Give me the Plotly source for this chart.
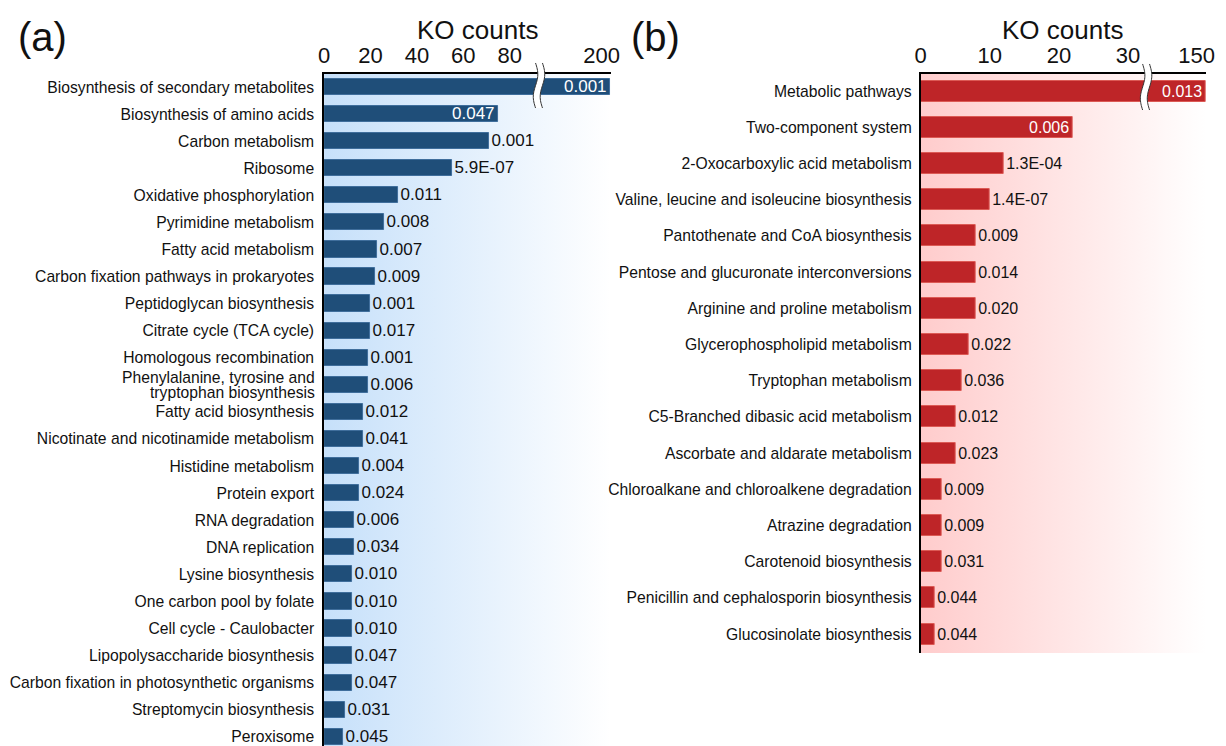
import math
import base64
import plotly.graph_objects as go

W, H = 1226, 746
FONT = "Liberation Sans"
LABEL_SIZE = 15.7

# ---- panel (a) data ----
pathways_a = [
    "Biosynthesis of secondary metabolites",
    "Biosynthesis of amino acids",
    "Carbon metabolism",
    "Ribosome",
    "Oxidative phosphorylation",
    "Pyrimidine metabolism",
    "Fatty acid metabolism",
    "Carbon fixation pathways in prokaryotes",
    "Peptidoglycan biosynthesis",
    "Citrate cycle (TCA cycle)",
    "Homologous recombination",
    "Phenylalanine, tyrosine and<br>tryptophan biosynthesis",
    "Fatty acid biosynthesis",
    "Nicotinate and nicotinamide metabolism",
    "Histidine metabolism",
    "Protein export",
    "RNA degradation",
    "DNA replication",
    "Lysine biosynthesis",
    "One carbon pool by folate",
    "Cell cycle - Caulobacter",
    "Lipopolysaccharide biosynthesis",
    "Carbon fixation in photosynthetic organisms",
    "Streptomycin biosynthesis",
    "Peroxisome",
]
counts_a = [203, 75, 71, 55, 32, 26, 23, 22, 20, 20, 19, 19, 17, 17, 15, 15,
            13, 13, 12, 12, 12, 12, 12, 9, 8]
pvals_a = ["0.001", "0.047", "0.001", "5.9E-07", "0.011", "0.008", "0.007",
           "0.009", "0.001", "0.017", "0.001", "0.006", "0.012", "0.041",
           "0.004", "0.024", "0.006", "0.034", "0.010", "0.010", "0.010",
           "0.047", "0.047", "0.031", "0.045"]
ticks_a = [0, 20, 40, 60, 80, 200]

# ---- panel (b) data ----
pathways_b = [
    "Metabolic pathways",
    "Two-component system",
    "2-Oxocarboxylic acid metabolism",
    "Valine, leucine and isoleucine biosynthesis",
    "Pantothenate and CoA biosynthesis",
    "Pentose and glucuronate interconversions",
    "Arginine and proline metabolism",
    "Glycerophospholipid metabolism",
    "Tryptophan metabolism",
    "C5-Branched dibasic acid metabolism",
    "Ascorbate and aldarate metabolism",
    "Chloroalkane and chloroalkene degradation",
    "Atrazine degradation",
    "Carotenoid biosynthesis",
    "Penicillin and cephalosporin biosynthesis",
    "Glucosinolate biosynthesis",
]
counts_b = [152, 22, 12, 10, 8, 8, 8, 7, 6, 5, 5, 3, 3, 3, 2, 2]
pvals_b = ["0.013", "0.006", "1.3E-04", "1.4E-07", "0.009", "0.014", "0.020",
           "0.022", "0.036", "0.012", "0.023", "0.009", "0.009", "0.031",
           "0.044", "0.044"]
ticks_b = [0, 10, 20, 30, 150]

# ---- broken x axes: linear lower segment, compressed upper segment ----
BREAK_A = dict(low_max=92.6, hi_start=180, hi_pos=95.0, hi_scale=1.23)
BREAK_B = dict(low_max=32.6, hi_start=140, hi_pos=33.5, hi_scale=0.64)


def axis_pos(v, brk):
    if v <= brk["low_max"]:
        return v
    return brk["hi_pos"] + (v - brk["hi_start"]) * brk["hi_scale"]


# panel geometry in pixels
A_L, A_R = 322, 612
B_L, B_R = 926, 1215
TOP = 74
A_BOT, B_BOT = 746, 653
PX_A, PX_B = 2.35, 7.0            # pixels per count on the lower segment
RANGE_A = (A_R - A_L) / PX_A
RANGE_B = (B_R - B_L) / PX_B


def px_x(p):
    return p / W


def px_y(p):
    return 1 - p / H


BLUE, BLUE_EDGE = "#1f4e79", "#3f6e9c"
RED, RED_EDGE = "#be2528", "#dc5a55"

fig = go.Figure()


def add_panel(names, counts, pvals, brk, color, edge, xa, ya, n_inside,
              width, tsize):
    xs = [axis_pos(c, brk) for c in counts]
    pos = ["inside" if i < n_inside else "outside" for i in range(len(counts))]
    fig.add_trace(go.Bar(
        x=xs, y=list(range(len(names))), orientation="h",
        text=pvals, textposition=pos, insidetextanchor="end",
        constraintext="none", textangle=0,
        insidetextfont=dict(color="white", size=tsize, family=FONT),
        outsidetextfont=dict(color="#111", size=tsize, family=FONT),
        marker=dict(color=color, line=dict(color=edge, width=1)),
        width=width, cliponaxis=False, xaxis=xa, yaxis=ya,
        showlegend=False, hoverinfo="skip",
    ))


add_panel(pathways_a, counts_a, pvals_a, BREAK_A, BLUE, BLUE_EDGE,
          "x", "y", 2, 0.6, 17)
add_panel(pathways_b, counts_b, pvals_b, BREAK_B, RED, RED_EDGE,
          "x2", "y2", 2, 0.58, 16)

# multi-line category drawn separately with tight line spacing
special = pathways_a.index("Phenylalanine, tyrosine and<br>tryptophan biosynthesis")
ticktext_a = ["" if i == special else n for i, n in enumerate(pathways_a)]

axis_common = dict(showgrid=False, zeroline=False, showline=True,
                   linecolor="black", linewidth=1.6, ticks="",
                   fixedrange=True)

fig.update_layout(
    width=W, height=H,
    margin=dict(l=0, r=0, t=0, b=0),
    paper_bgcolor="white", plot_bgcolor="rgba(0,0,0,0)",
    font=dict(family=FONT, color="#111"),
    bargap=0,
    xaxis=dict(domain=[px_x(A_L), px_x(A_R)], range=[0, RANGE_A], side="top",
               anchor="y",
               tickvals=[axis_pos(t, BREAK_A) for t in ticks_a],
               ticktext=[str(t) for t in ticks_a],
               tickfont=dict(size=22, color="#111", family=FONT),
               ticklabelstandoff=0,
               **axis_common),
    yaxis=dict(domain=[px_y(A_BOT), px_y(TOP)], range=[24.34, -0.48],
               anchor="x",
               tickvals=list(range(len(pathways_a))), ticktext=ticktext_a,
               tickfont=dict(size=LABEL_SIZE, color="#111", family=FONT),
               ticklabelstandoff=5,
               **axis_common),
    xaxis2=dict(domain=[px_x(B_L), px_x(B_R)], range=[0, RANGE_B], side="top",
                anchor="y2",
                tickvals=[axis_pos(t, BREAK_B) for t in ticks_b],
                ticktext=[str(t) for t in ticks_b],
                tickfont=dict(size=22, color="#111", family=FONT),
                ticklabelstandoff=0,
                **axis_common),
    yaxis2=dict(domain=[px_y(B_BOT), px_y(TOP)], range=[15.52, -0.47],
                anchor="x2",
                tickvals=list(range(len(pathways_b))), ticktext=pathways_b,
                tickfont=dict(size=LABEL_SIZE, color="#111", family=FONT),
                ticklabelstandoff=4,
                **axis_common),
)


# ---- gradient panel backgrounds ----
def gradient_uri(c0):
    svg = ('<svg xmlns="http://www.w3.org/2000/svg" width="200" height="200" '
           'viewBox="0 0 200 200" preserveAspectRatio="none"><defs>'
           '<linearGradient id="g" x1="0" x2="1" y1="0" y2="0">'
           f'<stop offset="0" stop-color="{c0}"/>'
           '<stop offset="1" stop-color="#ffffff"/></linearGradient></defs>'
           '<rect width="200" height="200" fill="url(#g)"/></svg>')
    return "data:image/svg+xml;base64," + base64.b64encode(svg.encode()).decode()


fig.update_layout(images=[
    dict(source=gradient_uri("#c6e0fa"), xref="paper", yref="paper",
         x=px_x(A_L), y=px_y(TOP), sizex=px_x(A_R - A_L), sizey=(A_BOT - TOP) / H,
         xanchor="left", yanchor="top", sizing="stretch", layer="below"),
    dict(source=gradient_uri("#ffcccc"), xref="paper", yref="paper",
         x=px_x(B_L), y=px_y(TOP), sizex=px_x(B_R - B_L), sizey=(B_BOT - TOP) / H,
         xanchor="left", yanchor="top", sizing="stretch", layer="below"),
])


# ---- axis-break marks (two wavy lines with a white gap) ----
def break_shapes(left_px, px_per_unit, brk, y0, y1, half_gap=3.5, amp=2.3):
    xc = left_px + brk["low_max"] * px_per_unit
    n = 30
    ts = [i / n for i in range(n + 1)]

    def curve(off):
        return [(px_x(xc + off + amp * math.sin(2 * math.pi * t)),
                 px_y(y0 + (y1 - y0) * t)) for t in ts]

    lft, rgt = curve(-half_gap), curve(half_gap)
    poly = lft + rgt[::-1]
    fill_path = "M " + " L ".join(f"{x:.5f},{y:.5f}" for x, y in poly) + " Z"
    shapes = [dict(type="path", xref="paper", yref="paper", path=fill_path,
                   fillcolor="white", line=dict(width=0), layer="above")]
    for c in (lft, rgt):
        p = "M " + " L ".join(f"{x:.5f},{y:.5f}" for x, y in c)
        shapes.append(dict(type="path", xref="paper", yref="paper", path=p,
                           line=dict(color="#333", width=1), layer="above"))
    return shapes


shapes = break_shapes(A_L, PX_A, BREAK_A, 63, 108)
shapes += break_shapes(B_L, PX_B, BREAK_B, 64, 110)
fig.update_layout(shapes=shapes)

# ---- titles, panel letters and the two-line category ----
row_a = 0.265
anns = [
    dict(text="KO counts", x=px_x(477), y=px_y(30), xref="paper", yref="paper",
         xanchor="center", yanchor="middle",
         showarrow=False, font=dict(size=26, color="#111", family=FONT)),
    dict(text="KO counts", x=px_x(1070), y=px_y(30), xref="paper", yref="paper",
         xanchor="center", yanchor="middle",
         showarrow=False, font=dict(size=26, color="#111", family=FONT)),
    dict(text="(a)", x=px_x(10), y=px_y(37), xref="paper", yref="paper",
         xanchor="left", yanchor="middle",
         showarrow=False, font=dict(size=40, color="#111", family=FONT)),
    dict(text="(b)", x=px_x(631), y=px_y(37), xref="paper", yref="paper",
         xanchor="left", yanchor="middle",
         showarrow=False, font=dict(size=40, color="#111", family=FONT)),
]
for k, line in enumerate(pathways_a[special].split("<br>")):
    anns.append(dict(text=line, x=px_x(A_L - 7), xref="paper", xanchor="right",
                     y=special + (-row_a if k == 0 else row_a), yref="y",
                     yanchor="middle", showarrow=False,
                     font=dict(size=LABEL_SIZE, color="#111", family=FONT)))
fig.update_layout(annotations=anns)

fig.write_html("out.html")
